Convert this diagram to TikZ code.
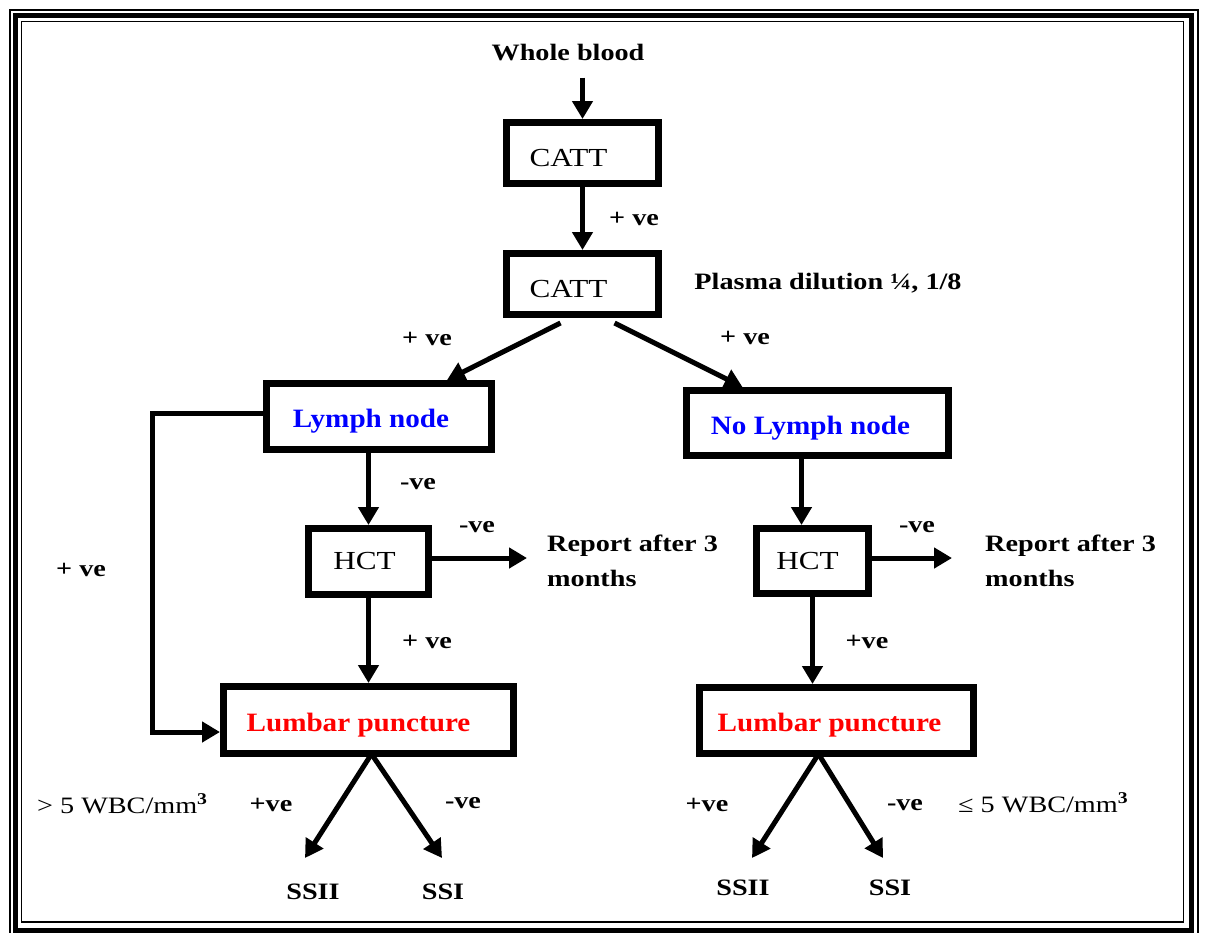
\documentclass[tikz,border=0pt]{standalone}
\usepackage{fontspec}
\setmainfont{Liberation Serif}
\newfontfamily\wfont[FakeStretch=1.2]{Liberation Serif}
\newfontfamily\bxfont[FakeStretch=1.2]{Liberation Serif}
\newfontfamily\clfont[FakeStretch=1.1]{Liberation Serif}
\usetikzlibrary{arrows.meta,calc}
\newcommand\lowr[1]{\raisebox{-5pt}[\height][\depth]{#1}}
\begin{document}
\begin{tikzpicture}[x=1pt,y=-1pt,
  lbl/.style={font=\wfont\bfseries\fontsize{23.5}{35}\selectfont, inner sep=0pt},
  wbc/.style={font=\wfont\fontsize{23.5}{27}\selectfont, inner sep=0pt},
  box/.style={draw, line width=7pt, inner sep=0pt, fill=white},
  bxt/.style={font=\bxfont\fontsize{26}{30}\selectfont},
  clt/.style={font=\clfont\bfseries\fontsize{26.5}{30}\selectfont},
  arr/.style={line width=5pt, -{Triangle[length=18pt,width=20pt]}}]
\useasboundingbox (0,0) rectangle (1212,932);
\clip (0,0) rectangle (1212,932);
% frame
\draw[line width=2pt] (10,10) rectangle (1198,942);
\draw[line width=5.5pt] (15.5,15.5) rectangle (1191.5,930.5);
\draw[line width=1.6pt] (21.5,21.5) rectangle (1183.5,922);

% nodes
\node[lbl] (wb) at (568,53) {Whole blood};
\node[box,bxt,minimum width=152pt,minimum height=61pt] (catt1) at (582.5,153) {\hspace*{-28pt}\lowr{CATT}};
\node[box,bxt,minimum width=152pt,minimum height=61pt] (catt2) at (582.5,284) {\hspace*{-28pt}\lowr{CATT}};
\node[lbl] (plasma) at (828,283) {Plasma dilution ¼, 1/8};
\node[box,clt,text=blue,minimum width=225pt,minimum height=66pt] (lymph) at (379,416.5) {\hspace*{-16pt}\lowr{Lymph node}};
\node[box,clt,text=blue,minimum width=262pt,minimum height=65pt] (nolymph) at (817.5,423) {\hspace*{-14pt}\lowr{No Lymph node}};
\node[box,bxt,minimum width=120pt,minimum height=66pt] (hct1) at (368.5,561.5) {\hspace*{-8pt}HCT};
\node[box,bxt,minimum width=112pt,minimum height=65pt] (hct2) at (812.5,561) {\hspace*{-10pt}HCT};
\node[box,clt,text=red,minimum width=290pt,minimum height=67pt] (lp1) at (368.5,720) {\hspace*{-20pt}\lowr{Lumbar puncture}};
\node[box,clt,text=red,minimum width=274pt,minimum height=66pt] (lp2) at (836.5,720.5) {\hspace*{-14pt}\lowr{Lumbar puncture}};
\node[lbl,align=left,anchor=west] (rep1) at (547,561) {Report after 3\\months};
\node[lbl,align=left,anchor=west] (rep2) at (985,561) {Report after 3\\months};
\node[lbl] (s1) at (313,892) {SSII};
\node[lbl] (s2) at (443,892) {SSI};
\node[lbl] (s3) at (743,888) {SSII};
\node[lbl] (s4) at (890,888) {SSI};

% edge labels
\node[lbl] (l1) at (634,219) {+ ve};
\node[lbl] (l2) at (427,339) {+ ve};
\node[lbl] (l3) at (745,338) {+ ve};
\node[lbl] (l4) at (418,484) {-ve};
\node[lbl] (l5) at (477,527) {-ve};
\node[lbl] (l6) at (81,570) {+ ve};
\node[lbl] (l7) at (427,642) {+ ve};
\node[lbl] (l8) at (917,527) {-ve};
\node[lbl] (l9) at (867,642) {+ve};
\node[wbc,anchor=west] (w1) at (37,804) {> 5 WBC/mm\textsuperscript{\textbf{3}}};
\node[lbl] (l10) at (271,805) {+ve};
\node[lbl] (l11) at (463,803) {-ve};
\node[lbl] (l12) at (707,805) {+ve};
\node[lbl] (l13) at (905,805) {-ve};
\node[wbc,anchor=west] (w2) at (958,803) {≤ 5 WBC/mm\textsuperscript{\textbf{3}}};

% free ends
\coordinate (r1) at (527,558);
\coordinate (r2) at (952,558);
\coordinate (t1) at (305,858);
\coordinate (t2) at (442,858);
\coordinate (t3) at (752,858);
\coordinate (t4) at (883,858);
\coordinate (nls) at ($(nolymph.south)+(-16,0)$);
\coordinate (wbs) at ($(wb.south -| catt1.north)+(0,16)$);

% connectors
\draw[arr] (wbs) -- (catt1.north);
\draw[arr] (catt1) -- (catt2);
\draw[arr] ($(catt2.south)+(-22,5)$) -- ($(lymph.north)+(68,0)$);
\draw[arr] ($(catt2.south)+(32,5)$) -- ($(nolymph.north)+(-75,0)$);
\draw[arr] (lymph.south -| hct1.north) -- (hct1.north);
\draw[arr] (nls) -- (nls |- hct2.north);
\draw[arr] (hct1.east |- r1) -- (r1);
\draw[arr] (hct2.east |- r2) -- (r2);
\draw[arr] (hct1.south) -- (hct1.south |- lp1.north);
\draw[arr] (hct2.south) -- (hct2.south |- lp2.north);
\draw[arr,line join=miter] ($(lymph.west)+(0,-3)$) -- ++(-111,0) |- ($(lp1.west)+(0,12)$);
\draw[arr] ($(lp1.south)+(3,-3)$) -- (t1);
\draw[arr] ($(lp1.south)+(3,-3)$) -- (t2);
\draw[arr] ($(lp2.south)+(-18,-3)$) -- (t3);
\draw[arr] ($(lp2.south)+(-18,-3)$) -- (t4);
\end{tikzpicture}
\end{document}
